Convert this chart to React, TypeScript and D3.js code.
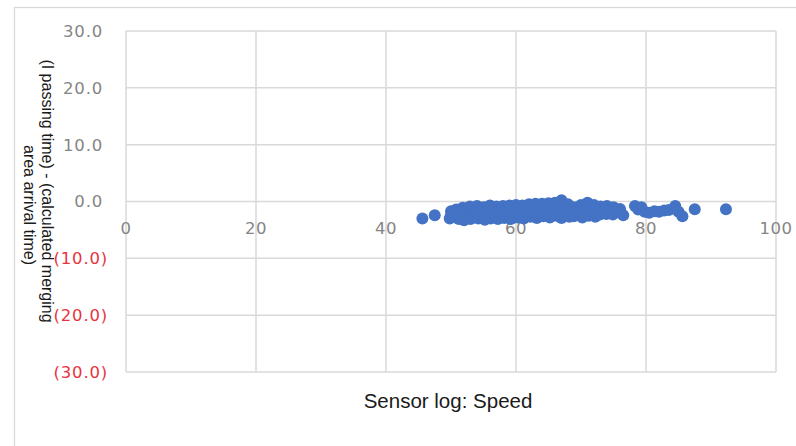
import React from "react";
import * as d3 from "d3";

const speedValues: number[] = [
  45.6, 47.5,
  50.0, 50.0, 49.8,
  50.8, 51.0, 51.2,
  51.8, 52.0, 52.2, 52.0,
  52.9, 53.0, 53.1, 53.0,
  54.0, 54.1, 53.9, 54.2,
  55.0, 55.1, 54.9, 55.2,
  56.0, 56.2, 55.9, 56.1,
  57.0, 57.1, 56.8, 57.2,
  58.0, 58.1, 57.9, 58.2,
  59.0, 59.1, 58.9, 59.2,
  60.0, 60.1, 59.9, 60.2,
  61.0, 61.1, 60.9, 61.2,
  62.0, 62.1, 61.9, 62.2,
  63.0, 63.1, 62.9, 63.2,
  64.0, 64.1, 63.9, 64.2,
  65.0, 65.1, 64.9, 65.2,
  66.0, 66.1, 65.9, 66.2,
  67.0, 67.2, 66.9, 67.1, 67.0,
  68.0, 68.1, 67.9, 68.2,
  69.0, 69.1, 68.9,
  70.0, 70.1, 69.9, 70.2,
  71.0, 71.1, 70.9, 71.2,
  72.0, 72.1, 71.9, 72.2,
  73.0, 73.1, 72.9,
  74.0, 74.1, 73.9,
  75.0, 75.1, 74.9,
  76.0, 76.1, 76.5,
  78.3, 78.8, 79.3, 79.8, 80.5, 81.3, 82.0, 82.8, 83.5, 84.5, 85.0, 85.6,
  87.5, 92.3,
];

const diffValues: number[] = [
  -3.0, -2.4,
  -1.7, -2.5, -3.0,
  -1.4, -2.2, -3.1,
  -1.1, -1.9, -2.7, -3.3,
  -0.9, -1.7, -2.5, -3.1,
  -0.8, -1.6, -2.4, -3.0,
  -1.0, -1.8, -2.6, -3.2,
  -0.7, -1.5, -2.3, -3.0,
  -0.9, -1.7, -2.5, -3.1,
  -0.8, -1.4, -2.2, -2.9,
  -0.7, -1.6, -2.4, -3.1,
  -0.6, -1.3, -2.1, -2.8,
  -0.7, -1.5, -2.3, -3.0,
  -0.5, -1.2, -2.0, -2.7,
  -0.4, -1.4, -2.2, -2.9,
  -0.4, -1.1, -1.9, -2.6,
  -0.3, -1.3, -2.1, -2.8,
  -0.2, -1.0, -1.8, -2.5,
  0.2, -0.6, -1.4, -2.2, -2.9,
  -0.5, -1.2, -2.0, -2.7,
  -1.0, -1.8, -2.6,
  -0.6, -1.4, -2.2, -2.8,
  -0.2, -1.0, -1.7, -2.5,
  -0.6, -1.4, -2.2, -2.7,
  -0.9, -1.6, -2.3,
  -0.8, -1.5, -2.2,
  -1.0, -1.7, -2.3,
  -1.3, -1.9, -2.4,
  -0.8, -1.4, -1.0, -1.8, -2.0, -1.7, -1.8, -1.6, -1.5, -0.8, -1.8, -2.6,
  -1.35, -1.35,
];

const xTicks: number[] = [0, 20, 40, 60, 80, 100];
const yTicks: number[] = [30, 20, 10, 0, -10, -20, -30];
const xTitle = "Sensor log: Speed";
const yTitleLine1 = "(I passing time) - (calculated merging";
const yTitleLine2 = "area arrival time)";

const W = 796;
const H = 446;
const plot = { left: 126, right: 776, top: 31, bottom: 372 };

const fmtY = (v: number) =>
  v < 0 ? `(${Math.abs(v).toFixed(1)})` : v.toFixed(1);

export default function App() {
  const x = d3.scaleLinear().domain([0, 100]).range([plot.left, plot.right]);
  const y = d3.scaleLinear().domain([-30, 30]).range([plot.bottom, plot.top]);
  const grid = "#d9d9d9";
  const tickFont = "'DejaVu Sans', Verdana, sans-serif";
  const titleFont = "'Liberation Sans', Arial, sans-serif";

  return (
    <svg
      width={W}
      height={H}
      style={{ position: "absolute", left: 0, top: 0, background: "#fff" }}
    >
      <rect x={14.5} y={7.5} width={800} height={500} fill="#fff" stroke={grid} strokeWidth={1.3} />
      {yTicks.map((t) => (
        <line key={"hy" + t} x1={plot.left} x2={plot.right} y1={y(t)} y2={y(t)} stroke={grid} strokeWidth={1.5} />
      ))}
      {xTicks.map((t) => (
        <line key={"vx" + t} x1={x(t)} x2={x(t)} y1={plot.top} y2={plot.bottom} stroke={grid} strokeWidth={1.5} />
      ))}
      {yTicks.map((t) => (
        <text
          key={"ly" + t}
          x={t < 0 ? 108 : 103}
          y={y(t)}
          dy="0.36em"
          textAnchor="end"
          fontFamily={tickFont}
          fontSize={16.5}
          letterSpacing={0.8}
          fill={t < 0 ? "#e8333f" : "#858585"}
        >
          {fmtY(t)}
        </text>
      ))}
      {xTicks.map((t) => (
        <text
          key={"lx" + t}
          x={x(t)}
          y={234}
          textAnchor="middle"
          fontFamily={tickFont}
          fontSize={16.5}
          letterSpacing={0.5}
          fill="#858585"
        >
          {t}
        </text>
      ))}
      <g>
        {speedValues.map((s, i) => (
          <circle key={i} cx={x(s)} cy={y(diffValues[i])} r={6} fill="#4472C4" />
        ))}
      </g>
      <text x={448} y={408} textAnchor="middle" fontFamily={titleFont} fontSize={20.5} fill="#1a1a1a">
        {xTitle}
      </text>
      <text
        transform={`translate(42,191) rotate(90)`}
        textAnchor="middle"
        fontFamily={titleFont}
        fontSize={16}
        fill="#1a1a1a"
      >
        {yTitleLine1}
      </text>
      <text
        transform={`translate(24,205) rotate(90)`}
        textAnchor="middle"
        fontFamily={titleFont}
        fontSize={16}
        fill="#1a1a1a"
      >
        {yTitleLine2}
      </text>
    </svg>
  );
}
